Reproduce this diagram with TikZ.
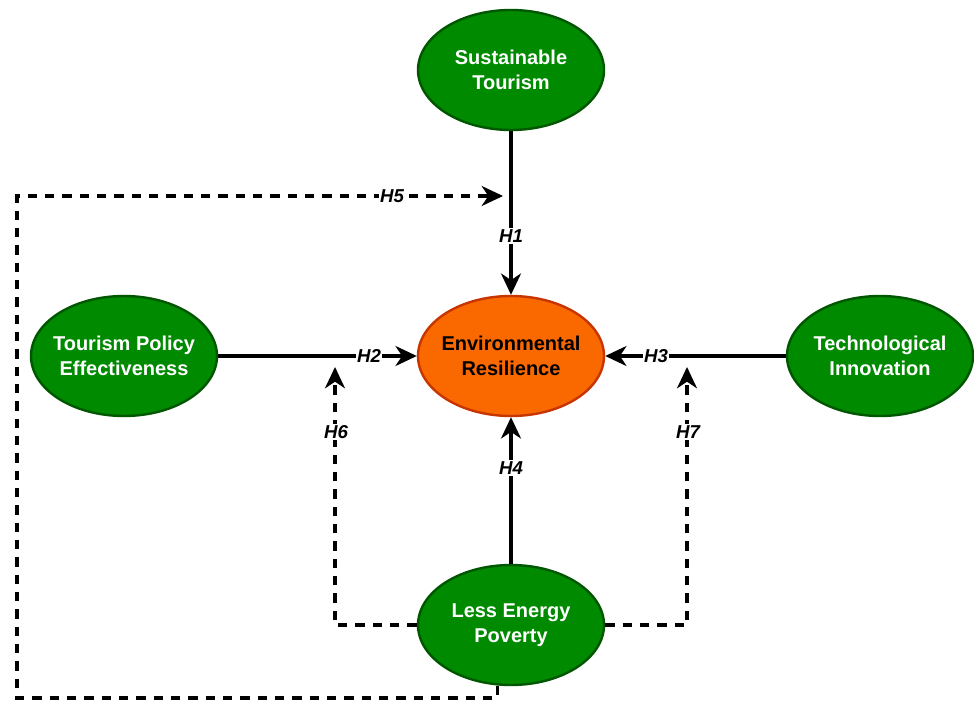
\documentclass[tikz,border=0pt]{standalone}
\usepackage{fontspec}
\setmainfont{Liberation Sans}
\usetikzlibrary{arrows.meta,shapes.geometric}
\definecolor{gfill}{HTML}{008A00}
\definecolor{gdraw}{HTML}{005700}
\definecolor{ofill}{HTML}{FA6800}
\definecolor{odraw}{HTML}{C73500}
\tikzset{
  construct/.style={ellipse, draw=gdraw, fill=gfill, line width=1.8pt,
    minimum width=139.5pt, minimum height=90pt, inner xsep=-15pt, inner ysep=0pt,
    text=white, font=\fontsize{15pt}{18.75pt}\selectfont\bfseries, align=center},
  outcome/.style={construct, draw=odraw, fill=ofill, text=black},
  link/.style={line width=2.3pt, -{Stealth[length=16pt,width=15pt,inset=5pt]}},
  dlink/.style={link, dash pattern=on 7pt off 6pt},
  hlabel/.style={fill=white, inner sep=1pt, font=\fontsize{14pt}{16pt}\selectfont\bfseries\itshape}
}
\begin{document}
\begin{tikzpicture}[x=0.75pt,y=-0.75pt]
\useasboundingbox (0,0) rectangle (974,702);
\node[construct] (ST) at (511,70) {Sustainable\\Tourism};
\node[outcome] (ER) at (511,356) {Environmental\\Resilience};
\node[construct] (TPE) at (124,356) {Tourism Policy\\Effectiveness};
\node[construct] (TI) at (880,356) {Technological\\Innovation};
\node[construct] (LEP) at (511,625) {Less Energy\\Poverty};
\coordinate (h5bl) at (17,698);
\coordinate (h5end) at (503,196);
\coordinate (h6end) at (335,367);
\coordinate (h7end) at (687,367);
\draw[link] (ST) -- (ER);
\draw[link] (TPE) -- (ER);
\draw[link] (TI) -- (ER);
\draw[link] (LEP) -- (ER);
\draw[dlink] (LEP.-103) |- (h5bl) |- (h5end);
\draw[dlink] (LEP.west) -| (h6end);
\draw[dlink] (LEP.east) -| (h7end);
\node[hlabel] (l1) at (511,236) {H1};
\node[hlabel] (l2) at (369,356) {H2};
\node[hlabel] (l3) at (656,356) {H3};
\node[hlabel] (l4) at (511,468) {H4};
\node[hlabel] (l5) at (392,196) {H5};
\node[hlabel] (l6) at (336,432) {H6};
\node[hlabel] (l7) at (688,432) {H7};
\end{tikzpicture}
\end{document}
